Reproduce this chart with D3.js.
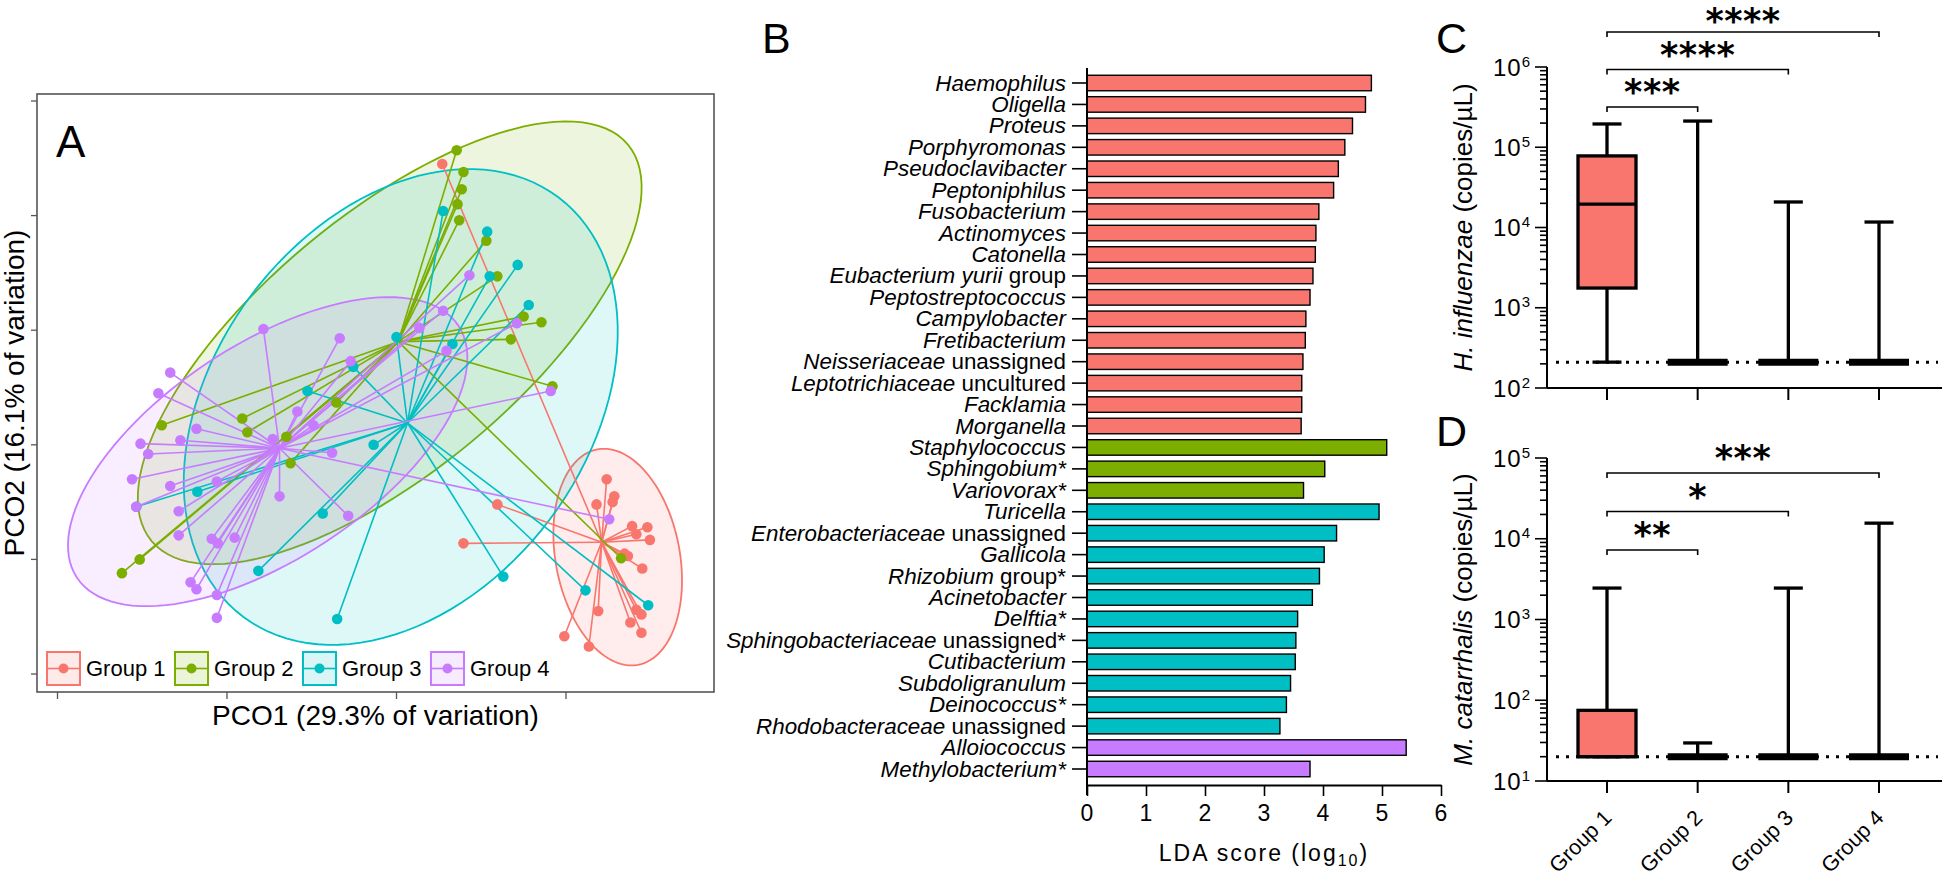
<!DOCTYPE html>
<html lang="en">
<head>
<meta charset="UTF-8">
<title>PCoA, LEfSe and qPCR panels</title>
<script src="https://d3js.org/d3.v7.min.js"></script>
<style>
  body { margin: 0; background: #fff; }
  svg { display: block; font-family: "Liberation Sans", Arial, sans-serif; }
  .frame { fill: none; stroke: #555; stroke-width: 1.6px; }
  .tickA { stroke: #555; stroke-width: 1.3px; }
  .axis-line { stroke: #000; stroke-width: 2px; fill: none; }
  .tick-line { stroke: #000; stroke-width: 1.6px; }
  .panel-letter { font-size: 43px; }
  .stars { font-family: "DejaVu Sans", sans-serif; font-weight: bold; font-size: 35px; letter-spacing: 0.5px; text-anchor: middle; }
</style>
</head>
<body>
<svg id="fig" width="1944" height="876"></svg>
<script>
  const groups = ["Group 1", "Group 2", "Group 3", "Group 4"];
  const groupColors = ["#F8766D", "#7CAE00", "#00BFC4", "#C77CFF"];

  // ---- panel A: PCoA scores (PCO1, PCO2) per sample
  const pcoGroup1 = [[0.054,0.245],[0.248,-0.030],[0.257,-0.045],[0.255,-0.050],[0.236,-0.052],[0.119,-0.052],
    [0.278,-0.071],[0.296,-0.072],[0.283,-0.078],[0.299,-0.083],[0.079,-0.086],[0.269,-0.095],[0.273,-0.097],
    [0.290,-0.108],[0.238,-0.145],[0.283,-0.144],[0.289,-0.148],[0.276,-0.155],[0.289,-0.164],[0.198,-0.167],[0.227,-0.176]];
  const pcoGroup2 = [[0.071,0.257],[0.079,0.238],[0.077,0.223],[0.072,0.210],[0.074,0.196],[0.106,0.178],[0.119,0.147],
    [0.150,0.112],[0.171,0.107],[0.135,0.092],[0.184,0.051],[0.265,-0.099],[-0.277,0.017],[-0.182,0.023],[-0.176,0.011],
    [-0.130,0.007],[-0.125,-0.016],[-0.303,-0.100],[-0.324,-0.112],[-0.071,0.037]];
  const pcoGroup3 = [[0.055,0.204],[0.107,0.186],[0.143,0.157],[0.110,0.147],[0.156,0.122],[0.066,0.088],[0.000,0.094],
    [-0.051,0.068],[-0.105,0.047],[-0.027,0.000],[-0.235,-0.041],[-0.307,-0.054],[-0.087,-0.060],[-0.163,-0.110],
    [-0.070,-0.152],[0.126,-0.115],[0.223,-0.127],[0.297,-0.140]];
  const pcoGroup4 = [[-0.157,0.101],[-0.067,0.093],[-0.054,0.073],[-0.267,0.063],[-0.281,0.045],[-0.302,0.001],
    [-0.293,-0.008],[-0.312,-0.030],[-0.307,-0.054],[-0.267,-0.036],[-0.255,0.004],[-0.236,0.014],[-0.257,-0.058],
    [-0.257,-0.079],[-0.218,-0.082],[-0.211,-0.086],[-0.191,-0.081],[-0.212,-0.032],[-0.243,-0.120],[-0.236,-0.126],
    [-0.212,-0.131],[-0.212,-0.151],[-0.146,0.005],[-0.117,0.029],[-0.098,0.017],[-0.138,-0.045],[-0.076,-0.007],
    [-0.057,-0.062],[0.055,0.117],[0.027,0.102],[0.059,0.082],[0.086,0.148],[0.142,0.106],[0.182,0.047],[0.251,-0.065]];
  const pcoCentroids = [[0.242,-0.085],[0.002,0.090],[0.013,0.019],[-0.138,-0.003]];
  // ellipses: centre c and conjugate semi-axes u, v (PCO units)
  const pcoEllipses = [
    { c: [0.261,-0.098], u: [0.024,-0.094], v: [0.072,0.010] },
    { c: [-0.008,0.089], u: [0.281,0.173], v: [0.097,-0.086] },
    { c: [0.005,0.033], u: [0.186,0.183], v: [0.176,-0.098] },
    { c: [-0.152,-0.006], u: [0.225,0.110], v: [0.070,-0.078] }
  ];
  const pcoXTicks = [-0.4, -0.2, 0, 0.2];
  const pcoYTicks = [-0.2, -0.1, 0, 0.1, 0.2, 0.3];

  // ---- panel B: LEfSe
  const taxaItalic = ["Haemophilus","Oligella","Proteus","Porphyromonas","Pseudoclavibacter","Peptoniphilus",
    "Fusobacterium","Actinomyces","Catonella","Eubacterium yurii","Peptostreptococcus","Campylobacter",
    "Fretibacterium","Neisseriaceae","Leptotrichiaceae","Facklamia","Morganella","Staphylococcus","Sphingobium*",
    "Variovorax*","Turicella","Enterobacteriaceae","Gallicola","Rhizobium","Acinetobacter","Delftia*",
    "Sphingobacteriaceae","Cutibacterium","Subdoligranulum","Deinococcus*","Rhodobacteraceae","Alloiococcus",
    "Methylobacterium*"];
  const taxaPlain = ["","","","","","","","","","group","","","","unassigned","uncultured","","","","","","",
    "unassigned","","group*","","","unassigned*","","","","unassigned","",""];
  const ldaScores = [4.82,4.72,4.50,4.37,4.26,4.18,3.93,3.88,3.87,3.83,3.78,3.71,3.70,3.66,3.64,3.64,3.63,
    5.08,4.03,3.67,4.95,4.23,4.02,3.94,3.82,3.57,3.54,3.53,3.45,3.38,3.27,5.41,3.78];
  const taxaGroup = [0,0,0,0,0,0,0,0,0,0,0,0,0,0,0,0,0,1,1,1,2,2,2,2,2,2,2,2,2,2,2,3,3];
  const ldaTicks = [0, 1, 2, 3, 4, 5, 6];

  // ---- panels C and D: qPCR, [min, q1, median, q3, max] per group
  const hiStats = [[210,1760,19600,78000,195000],[210,210,210,210,212000],[210,210,210,210,20800],[210,210,210,210,11700]];
  const mcStats = [[20,20,20,75,2450],[20,20,20,20,29.6],[20,20,20,20,2450],[20,20,20,20,15600]];
  const hiLimit = 210;
  const mcLimit = 20;
  const hiSig = [[0,1,"***"],[0,2,"****"],[0,3,"****"]];
  const mcSig = [[0,1,"**"],[0,2,"*"],[0,3,"***"]];

  const svg = d3.select("#fig");

  // ================= A =================
  const A = { left: 37, right: 714, top: 94, bottom: 692 };
  const xA = d3.scaleLinear().domain([-0.4, 0.2]).range([57.5, 566]);
  const yA = d3.scaleLinear().domain([-0.2, 0.3]).range([674, 101]);

  svg.append("defs").append("clipPath").attr("id", "clipA").append("rect")
     .attr("x", A.left).attr("y", A.top).attr("width", A.right - A.left).attr("height", A.bottom - A.top);

  const gA = svg.append("g");
  const plotA = gA.append("g").attr("clip-path", "url(#clipA)");

  const ellipsePts = e => d3.range(0, 360, 3).map(deg => {
    const t = deg * Math.PI / 180;
    return [e.c[0] + e.u[0] * Math.cos(t) + e.v[0] * Math.sin(t),
            e.c[1] + e.u[1] * Math.cos(t) + e.v[1] * Math.sin(t)];
  });
  const ellLine = d3.line().x(d => xA(d[0])).y(d => yA(d[1])).curve(d3.curveLinearClosed);

  plotA.append("g").selectAll("path").data(pcoEllipses).join("path")
       .attr("d", e => ellLine(ellipsePts(e)))
       .attr("fill", (e, i) => groupColors[i]).attr("fill-opacity", 0.13)
       .attr("stroke", (e, i) => groupColors[i]).attr("stroke-width", 1.8);

  const pcoGroups = [pcoGroup1, pcoGroup2, pcoGroup3, pcoGroup4];
  pcoGroups.forEach((pts, i) => {
    const c = pcoCentroids[i];
    plotA.append("g").selectAll("line").data(pts).join("line")
         .attr("x1", xA(c[0])).attr("y1", yA(c[1]))
         .attr("x2", d => xA(d[0])).attr("y2", d => yA(d[1]))
         .attr("stroke", groupColors[i]).attr("stroke-width", 1.6);
  });
  pcoGroups.forEach((pts, i) => {
    plotA.append("g").selectAll("circle").data(pts).join("circle")
         .attr("cx", d => xA(d[0])).attr("cy", d => yA(d[1])).attr("r", 5.3)
         .attr("fill", groupColors[i]);
  });

  gA.append("rect").attr("class", "frame")
    .attr("x", A.left).attr("y", A.top).attr("width", A.right - A.left).attr("height", A.bottom - A.top);
  gA.append("g").selectAll("line").data(pcoXTicks).join("line").attr("class", "tickA")
    .attr("x1", d => xA(d)).attr("x2", d => xA(d)).attr("y1", A.bottom).attr("y2", A.bottom + 7);
  gA.append("g").selectAll("line").data(pcoYTicks).join("line").attr("class", "tickA")
    .attr("y1", d => yA(d)).attr("y2", d => yA(d)).attr("x1", A.left - 6).attr("x2", A.left);

  gA.append("text").attr("x", 56).attr("y", 157).attr("font-size", 44).text("A");
  gA.append("text").attr("x", (A.left + A.right) / 2).attr("y", 725).attr("font-size", 28)
    .attr("text-anchor", "middle").text("PCO1 (29.3% of variation)");
  gA.append("text").attr("transform", "translate(24," + ((A.top + A.bottom) / 2) + ") rotate(-90)")
    .attr("font-size", 28).attr("text-anchor", "middle").text("PCO2 (16.1% of variation)");

  const legA = gA.append("g").selectAll("g").data(groups).join("g")
    .attr("transform", (d, i) => "translate(" + (47 + i * 128) + ",652)");
  legA.append("rect").attr("width", 33).attr("height", 33)
    .attr("fill", (d, i) => groupColors[i]).attr("fill-opacity", 0.15)
    .attr("stroke", (d, i) => groupColors[i]).attr("stroke-width", 2);
  legA.append("line").attr("x1", 1).attr("x2", 32).attr("y1", 16.5).attr("y2", 16.5)
    .attr("stroke", (d, i) => groupColors[i]).attr("stroke-width", 1.6);
  legA.append("circle").attr("cx", 16.5).attr("cy", 16.5).attr("r", 5)
    .attr("fill", (d, i) => groupColors[i]);
  legA.append("text").attr("x", 39).attr("y", 24).attr("font-size", 22).text(d => d);

  // ================= B =================
  const gB = svg.append("g");
  const xB = d3.scaleLinear().domain([0, 6]).range([1087, 1441]);
  const yB = d3.scalePoint().domain(d3.range(taxaItalic.length)).range([83, 769]);
  const barH = 15.5;

  gB.append("g").selectAll("rect").data(ldaScores).join("rect")
    .attr("x", xB(0)).attr("y", (d, i) => yB(i) - barH / 2)
    .attr("width", d => xB(d) - xB(0)).attr("height", barH)
    .attr("fill", (d, i) => groupColors[taxaGroup[i]])
    .attr("stroke", "#000").attr("stroke-width", 1.4);

  const labB = gB.append("g").selectAll("text").data(taxaItalic).join("text")
    .attr("x", 1066).attr("y", (d, i) => yB(i) + 7.5)
    .attr("text-anchor", "end").attr("font-size", 22.4);
  labB.append("tspan").attr("font-style", "italic").text(d => d);
  labB.append("tspan").text((d, i) => taxaPlain[i] ? " " + taxaPlain[i] : "");

  gB.append("g").selectAll("line").data(taxaItalic).join("line").attr("class", "tick-line")
    .attr("x1", 1072).attr("x2", xB(0)).attr("y1", (d, i) => yB(i)).attr("y2", (d, i) => yB(i));
  gB.append("line").attr("class", "axis-line").attr("x1", xB(0)).attr("x2", xB(0)).attr("y1", 68).attr("y2", 795);

  const axB = gB.append("g").attr("transform", "translate(0,785)")
    .call(d3.axisBottom(xB).tickValues(ldaTicks).tickFormat(d3.format("d"))
      .tickSize(11).tickSizeOuter(0).tickPadding(9));
  axB.attr("font-family", null).attr("font-size", null);
  axB.select(".domain").attr("stroke-width", 2);
  axB.selectAll(".tick line").attr("stroke-width", 1.6);
  axB.selectAll(".tick text").attr("font-size", 23).attr("letter-spacing", 1);

  const ldaLab = gB.append("text").attr("x", 1264).attr("y", 861).attr("text-anchor", "middle")
    .attr("font-size", 23).attr("letter-spacing", 2);
  ldaLab.append("tspan").text("LDA score (log");
  ldaLab.append("tspan").attr("font-size", 16).attr("dy", 5).text("10");
  ldaLab.append("tspan").attr("dy", -5).text(")");

  gB.append("text").attr("class", "panel-letter").attr("x", 762).attr("y", 53).text("B");

  // ================= C and D =================
  function qpcrPanel(o) {
    const g = svg.append("g");
    const y = d3.scaleLog().domain(o.domain).range([o.bottom, o.top]);
    const x = d3.scalePoint().domain(groups).range([1607, 1879]);
    const ax = 1547;
    const k0 = Math.round(Math.log10(o.domain[0])), k1 = Math.round(Math.log10(o.domain[1]));
    const majors = d3.range(k0, k1 + 1).map(k => Math.pow(10, k));
    const minors = d3.range(k0, k1).flatMap(k => d3.range(2, 10).map(m => m * Math.pow(10, k)));

    g.append("g").selectAll("line").data(minors).join("line").attr("class", "tick-line")
      .attr("x1", ax - 7).attr("x2", ax).attr("y1", d => y(d)).attr("y2", d => y(d));
    g.append("g").selectAll("line").data(majors).join("line").attr("class", "tick-line")
      .attr("x1", ax - 12).attr("x2", ax).attr("y1", d => y(d)).attr("y2", d => y(d));
    const lab = g.append("g").selectAll("text").data(majors).join("text")
      .attr("x", 1531).attr("y", d => y(d) + 8.5).attr("text-anchor", "end").attr("font-size", 24)
      .attr("letter-spacing", 1);
    lab.append("tspan").text("10");
    lab.append("tspan").attr("font-size", 15).attr("dy", -9).text(d => Math.round(Math.log10(d)));

    g.append("line").attr("class", "axis-line").attr("x1", ax).attr("x2", ax).attr("y1", o.top).attr("y2", o.bottom);
    g.append("line").attr("class", "axis-line").attr("x1", ax).attr("x2", 1942).attr("y1", o.bottom).attr("y2", o.bottom);
    g.append("g").selectAll("line").data(groups).join("line").attr("class", "axis-line")
      .attr("x1", d => x(d)).attr("x2", d => x(d)).attr("y1", o.bottom).attr("y2", o.bottom + 12);

    // detection limit
    g.append("line").attr("x1", 1556).attr("x2", 1938).attr("y1", y(o.limit)).attr("y2", y(o.limit))
      .attr("stroke", "#000").attr("stroke-width", 3).attr("stroke-dasharray", "3 7");

    o.stats.forEach((s, i) => {
      const cx = x(groups[i]);
      const bx = g.append("g").attr("stroke", "#000");
      bx.append("line").attr("x1", cx).attr("x2", cx).attr("y1", y(s[0])).attr("y2", y(s[4])).attr("stroke-width", 3.3);
      [s[0], s[4]].forEach(v => bx.append("line").attr("x1", cx - 14.5).attr("x2", cx + 14.5)
        .attr("y1", y(v)).attr("y2", y(v)).attr("stroke-width", 3.3));
      if (s[3] > s[1]) {
        bx.append("rect").attr("x", cx - 29).attr("width", 58).attr("y", y(s[3])).attr("height", y(s[1]) - y(s[3]))
          .attr("fill", groupColors[i]).attr("stroke-width", 3.3);
        bx.append("line").attr("x1", cx - 29).attr("x2", cx + 29).attr("y1", y(s[2])).attr("y2", y(s[2])).attr("stroke-width", 3.3);
      } else {
        bx.append("line").attr("x1", cx - 30).attr("x2", cx + 30).attr("y1", y(s[2])).attr("y2", y(s[2])).attr("stroke-width", 7);
      }
    });

    o.sig.forEach((s, j) => {
      const yb = o.bracketY - j * o.bracketStep;
      const xa = x(groups[s[0]]), xb = x(groups[s[1]]);
      g.append("path").attr("d", "M" + xa + "," + (yb + 5) + "V" + yb + "H" + xb + "V" + (yb + 5))
        .attr("fill", "none").attr("stroke", "#000").attr("stroke-width", 1.6);
      g.append("text").attr("class", "stars").attr("x", (xa + xb) / 2)
        .attr("y", Math.max(yb - 3, 33)).text(s[2]);
    });

    const t = g.append("text").attr("transform", "translate(1472," + ((o.top + o.bottom) / 2) + ") rotate(-90)")
      .attr("text-anchor", "middle").attr("font-size", 26);
    t.append("tspan").attr("font-style", "italic").text(o.species);
    t.append("tspan").text(" (copies/µL)");

    g.append("text").attr("class", "panel-letter").attr("x", 1436).attr("y", o.letterY).text(o.letter);
    return { g, x };
  }

  qpcrPanel({ domain: [100, 1e6], top: 67, bottom: 388, stats: hiStats, limit: hiLimit, sig: hiSig,
              bracketY: 107, bracketStep: 37.5, species: "H. influenzae", letter: "C", letterY: 53 });
  const D = qpcrPanel({ domain: [10, 1e5], top: 458, bottom: 781, stats: mcStats, limit: mcLimit, sig: mcSig,
              bracketY: 550, bracketStep: 38.5, species: "M. catarrhalis", letter: "D", letterY: 446 });

  D.g.append("g").selectAll("text").data(groups).join("text")
    .attr("transform", d => "translate(" + (D.x(d) + 6) + ",819) rotate(-45)")
    .attr("text-anchor", "end").attr("font-size", 21.5).text(d => d);
</script>
</body>
</html>
